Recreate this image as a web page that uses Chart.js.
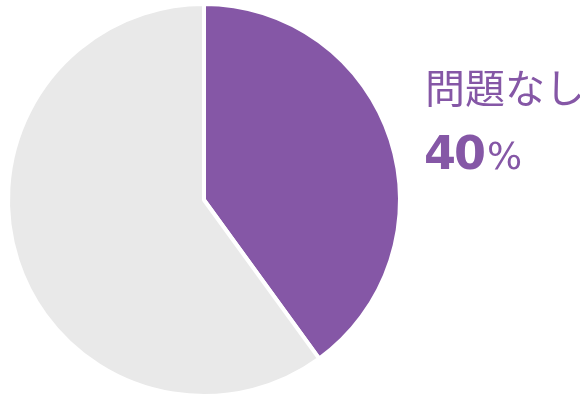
<!DOCTYPE html>
<html lang="ja">
<head>
<meta charset="utf-8">
<script src="https://cdn.jsdelivr.net/npm/chart.js@4/dist/chart.umd.min.js"></script>
<style>
  html, body { margin: 0; padding: 0; background: #fff; }
  #wrap { position: relative; width: 580px; height: 402px; }
  #pie { position: absolute; left: 0; top: 0; }
  .label { position: absolute; color: #8557a6; white-space: nowrap; line-height: normal; }
  #name { left: 425px; top: 57px; font: 400 40px "Noto Sans CJK JP", sans-serif; }
  #pct { left: 424px; top: 126px; font: 700 46px "DejaVu Sans", sans-serif; }
  #pct .num { letter-spacing: -2px; }
  #pct .unit { font: 400 37px "DejaVu Sans", sans-serif; margin-left: 3px; }
</style>
</head>
<body>
<div id="wrap">
  <canvas id="pie" width="580" height="402"></canvas>
  <div class="label" id="name"></div>
  <div class="label" id="pct"><span class="num"></span><span class="unit">%</span></div>
</div>
<script>
// data
const categories = ['問題なし', '問題あり'];
const values = [40, 60];
const colors = ['#8557a6', '#e9e9e9'];

// label on the right
document.getElementById('name').textContent = categories[0];
document.querySelector('#pct .num').textContent = values[0];

const ctx = document.getElementById('pie').getContext('2d');
const chart = new Chart(ctx, {
  type: 'pie',
  data: {
    labels: categories,
    datasets: [{
      data: values,
      backgroundColor: colors,
      borderColor: '#ffffff',
      borderWidth: 4
    }]
  },
  options: {
    responsive: false,
    animation: false,
    layout: {
      padding: { left: 6, right: 178, top: 2, bottom: 4 }
    },
    plugins: {
      legend: { display: false },
      tooltip: { enabled: false }
    }
  }
});
</script>
</body>
</html>
